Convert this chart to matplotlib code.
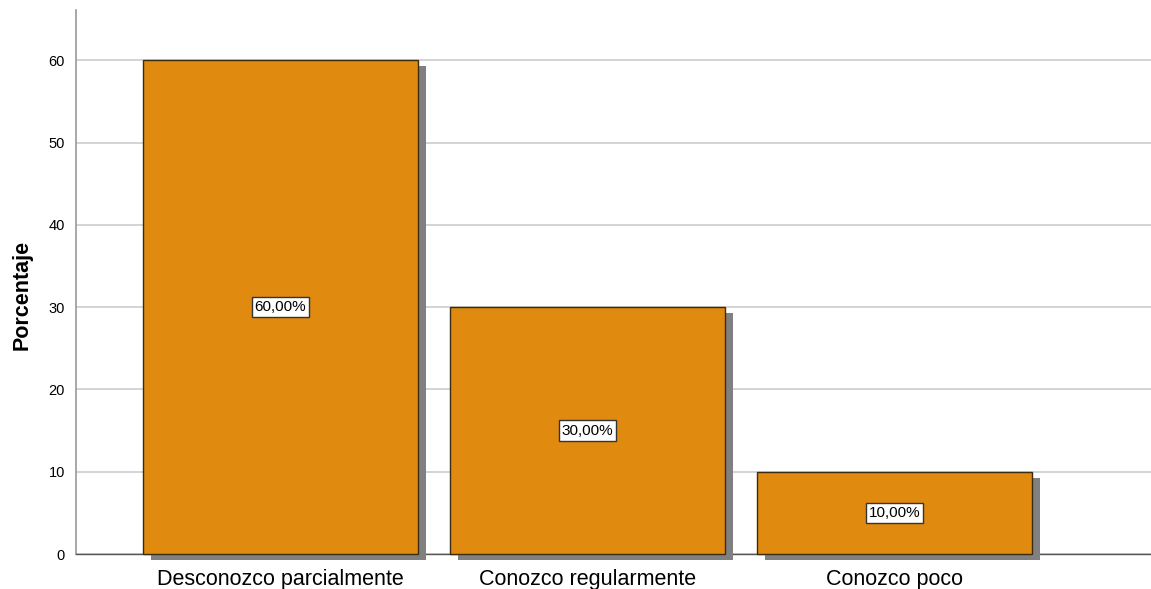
import matplotlib
matplotlib.use("Agg")
import matplotlib.pyplot as plt
import matplotlib.patheffects as pe

plt.rcParams["font.family"] = ["Liberation Sans", "DejaVu Sans"]

categories = ["Desconozco parcialmente", "Conozco regularmente", "Conozco poco"]
values = [60, 30, 10]
labels = ["60,00%", "30,00%", "10,00%"]
yticks = [0, 10, 20, 30, 40, 50, 60]

fig = plt.figure(figsize=(11.51, 5.89), dpi=100)
ax = fig.add_axes([76/1151, 1-554/589, (1151-76)/1151, (554-10)/589])

x = list(range(len(categories)))
bars = ax.bar(x, values, width=0.896, color="#E08A0F", edgecolor="#3a2a10",
              linewidth=1.0, zorder=3, clip_on=False)
for b in bars:
    b.set_path_effects([pe.SimplePatchShadow(offset=(5.8, -4.3), shadow_rgbFace="#808080", alpha=1.0),
                        pe.Normal()])

for xi, v, lab in zip(x, values, labels):
    ax.text(xi, v/2, lab, ha="center", va="center", fontsize=11, zorder=5,
            bbox=dict(boxstyle="square,pad=0.2", facecolor="white", edgecolor="#333333", linewidth=1))

ax.set_xlim(-0.666, 2.835)
ax.set_ylim(0, 66.1)
ax.set_yticks(yticks)
ax.set_xticks(x)
ax.set_xticklabels(categories, fontsize=15.5)
ax.tick_params(axis="y", length=0, labelsize=10.5, pad=8)
ax.tick_params(axis="x", length=0, pad=11)
ax.yaxis.grid(True, color="#cccccc", linewidth=1.2, zorder=0)
ax.set_axisbelow(True)
for s in ["top", "right"]:
    ax.spines[s].set_visible(False)
ax.spines["left"].set_color("#999999")
ax.spines["left"].set_linewidth(1.2)
ax.spines["bottom"].set_color("#555555")
ax.spines["bottom"].set_linewidth(1.0)
ax.set_ylabel("Porcentaje", fontsize=15.5, fontweight="bold")
ax.yaxis.set_label_coords(-0.040, 0.476)

fig.savefig("out.png", dpi=100)
